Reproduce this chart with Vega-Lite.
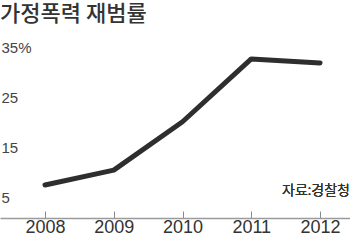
{
  "$schema": "https://vega.github.io/schema/vega-lite/v6.json",
  "width": 350,
  "height": 188,
  "autosize": {"type": "none"},
  "padding": {"left": 0, "right": 0, "top": 30, "bottom": 26},
  "background": "white",
  "title": {
    "text": "가정폭력 재범률",
    "anchor": "start",
    "frame": "group",
    "font": "Noto Sans CJK KR",
    "fontSize": 22,
    "fontWeight": 500,
    "color": "#333333",
    "offset": 4
  },
  "config": {"view": {"stroke": null}},
  "data": {
    "values": [
      {"year": 2008, "rate": 7.4},
      {"year": 2009, "rate": 10.4},
      {"year": 2010, "rate": 20.1},
      {"year": 2011, "rate": 32.7},
      {"year": 2012, "rate": 31.9}
    ]
  },
  "layer": [
    {
      "mark": {"type": "line", "color": "#2e2e2e", "strokeWidth": 5, "strokeCap": "round", "strokeJoin": "round"},
      "encoding": {
        "x": {
          "field": "year",
          "type": "quantitative",
          "scale": {"domain": [2007.345, 2012.436], "nice": false, "zero": false},
          "axis": {
            "values": [2008, 2009, 2010, 2011, 2012],
            "format": "d",
            "title": null,
            "grid": false,
            "domainColor": "#9a9a9a",
            "domainWidth": 1.5,
            "tickColor": "#8a8a8a",
            "tickSize": -7,
            "tickWidth": 1,
            "labelFont": "Liberation Sans",
            "labelFontSize": 18,
            "labelColor": "#333333",
            "labelPadding": 7,
            "labelFlush": false
          }
        },
        "y": {
          "field": "rate",
          "type": "quantitative",
          "scale": {"domain": [0.79, 38.51], "nice": false, "zero": false},
          "axis": {
            "values": [5, 15, 25, 35],
            "labelExpr": "datum.value == 35 ? '35%' : datum.label",
            "title": null,
            "grid": false,
            "domain": false,
            "ticks": false,
            "labelAlign": "left",
            "labelPadding": -1,
            "labelFont": "Liberation Sans",
            "labelFontSize": 15,
            "labelColor": "#444444"
          }
        }
      }
    },
    {
      "mark": {"type": "text", "text": "자료:경찰청", "align": "right", "baseline": "alphabetic", "font": "Noto Sans CJK KR", "fontSize": 14, "fontWeight": 300, "color": "#333333"},
      "encoding": {
        "x": {"datum": 2012.436},
        "y": {"datum": 5.4}
      }
    }
  ]
}
